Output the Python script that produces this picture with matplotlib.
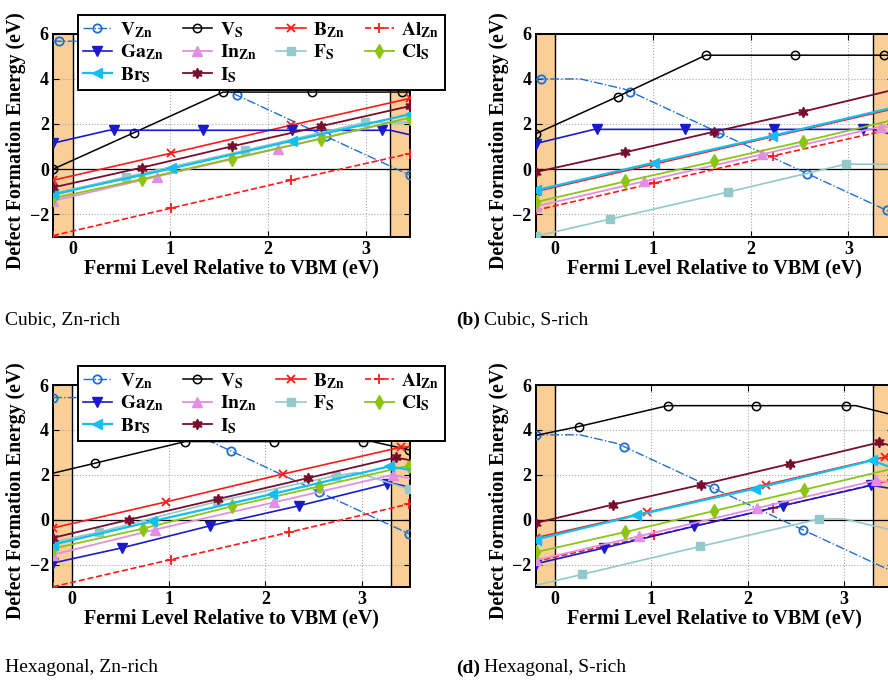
import matplotlib.pyplot as plt

plt.rcParams['font.family'] = 'Liberation Serif'
plt.rcParams['font.weight'] = 'bold'
plt.rcParams['axes.labelweight'] = 'bold'
plt.rcParams['mathtext.fontset'] = 'stix'

# band gaps (eV) and right x limit
gap_cubic = 3.25
gap_hex = 3.30
xmax_cubic = 3.45
xmax_hex = 3.50

# ---------------- (a) cubic, Zn-rich ----------------
a_vzn = [(-0.2, 5.66), (-0.14, 5.66), (0.26, 5.66), (0.71, 5.21), (0.77, 5.09), (1.68, 3.27), (2.59, 1.45), (3.45, -0.27)]
a_vzn_mk = [1, 4, 5, 6, 7]
a_vs = [(-0.2, 0.0), (0.63, 1.62), (1.54, 3.41), (2.45, 3.41), (3.37, 3.41), (3.45, 3.41)]
a_vs_mk = [0, 1, 2, 3, 4]
a_bzn = [(-0.2, -0.49), (1.01, 0.71), (2.23, 1.94), (3.45, 3.13)]
a_bzn_mk = [0, 1, 2, 3]
a_alzn = [(-0.2, -2.94), (1.01, -1.72), (2.23, -0.49), (3.45, 0.69)]
a_alzn_mk = [0, 1, 2, 3]
a_gazn = [(-0.2, 1.15), (0.37, 1.72), (0.42, 1.72), (1.33, 1.72), (2.24, 1.72), (3.16, 1.72), (3.25, 1.72), (3.45, 1.52)]
a_gazn_mk = [0, 2, 3, 4, 5]
a_inzn = [(-0.2, -1.40), (0.86, -0.33), (2.10, 0.91), (3.25, 2.06), (3.45, 2.06)]
a_inzn_mk = [0, 1, 2]
a_fs = [(-0.2, -1.08), (0.55, -0.34), (1.76, 0.83), (2.99, 2.07), (3.45, 2.07)]
a_fs_mk = [0, 1, 2, 3]
a_cls = [(-0.2, -1.29), (0.71, -0.44), (1.63, 0.47), (2.54, 1.35), (3.45, 2.28)]
a_cls_mk = [0, 1, 2, 3, 4]
a_brs = [(-0.2, -1.12), (1.01, 0.03), (2.24, 1.25), (3.45, 2.43)]
a_brs_mk = [0, 1, 2, 3]
a_is = [(-0.2, -0.81), (0.71, 0.07), (1.63, 1.01), (2.54, 1.90), (3.45, 2.79)]
a_is_mk = [0, 1, 2, 3, 4]

# ---------------- (b) cubic, S-rich ----------------
b_vzn = [(-0.2, 3.99), (-0.14, 3.99), (0.26, 3.99), (0.71, 3.54), (0.77, 3.43), (1.68, 1.60), (2.58, -0.20), (3.39, -1.82), (3.45, -1.94)]
b_vzn_mk = [1, 4, 5, 6, 7]
b_vs = [(-0.2, 1.56), (0.64, 3.21), (1.54, 5.04), (2.45, 5.04), (3.36, 5.04), (3.45, 5.04)]
b_vs_mk = [0, 1, 2, 3, 4]
b_bzn = [(-0.2, -0.99), (1.01, 0.22), (2.23, 1.44), (3.45, 2.66)]
b_bzn_mk = [0, 1, 2, 3]
b_alzn = [(-0.2, -1.82), (1.01, -0.62), (2.23, 0.59), (3.45, 1.78)]
b_alzn_mk = [0, 1, 2, 3]
b_gazn = [(-0.2, 1.13), (0.40, 1.76), (0.43, 1.76), (1.33, 1.76), (2.24, 1.76), (3.15, 1.76), (3.25, 1.76), (3.45, 1.53)]
b_gazn_mk = [0, 2, 3, 4, 5]
b_inzn = [(-0.2, -1.65), (0.91, -0.54), (2.12, 0.66), (3.33, 1.88), (3.45, 1.88)]
b_inzn_mk = [0, 1, 2, 3]
b_fs = [(-0.2, -2.97), (0.56, -2.21), (1.77, -1.01), (2.97, 0.22), (3.45, 0.22)]
b_fs_mk = [0, 1, 2, 3]
b_cls = [(-0.2, -1.46), (0.72, -0.54), (1.63, 0.34), (2.53, 1.22), (3.45, 2.17)]
b_cls_mk = [0, 1, 2, 3, 4]
b_brs = [(-0.2, -0.94), (1.01, 0.29), (2.22, 1.47), (3.45, 2.72)]
b_brs_mk = [0, 1, 2, 3]
b_is = [(-0.2, -0.13), (0.72, 0.75), (1.63, 1.66), (2.53, 2.54), (3.45, 3.50)]
b_is_mk = [0, 1, 2, 3, 4]

# ---------------- (c) hexagonal, Zn-rich ----------------
c_vzn = [(-0.2, 5.44), (0.26, 5.44), (0.65, 5.05), (0.72, 4.91), (1.64, 3.07), (2.56, 1.23), (3.49, -0.63)]
c_vzn_mk = [0, 3, 4, 5, 6]
c_vs = [(-0.2, 2.07), (0.24, 2.52), (1.17, 3.48), (2.09, 3.48), (3.01, 3.48), (3.11, 3.48), (3.49, 3.11)]
c_vs_mk = [1, 2, 3, 4, 6]
c_bzn = [(-0.2, -0.37), (0.97, 0.79), (2.18, 2.03), (3.41, 3.23), (3.50, 3.25)]
c_bzn_mk = [0, 1, 2, 3]
c_alzn = [(-0.2, -2.99), (1.02, -1.78), (2.25, -0.56), (3.49, 0.70)]
c_alzn_mk = [0, 1, 2, 3]
c_gazn = [(-0.2, -1.93), (0.51, -1.26), (1.43, -0.27), (2.35, 0.62), (3.26, 1.59), (3.30, 1.63), (3.50, 1.45)]
c_gazn_mk = [0, 1, 2, 3, 4]
c_inzn = [(-0.2, -1.56), (0.86, -0.44), (2.09, 0.77), (3.32, 2.00), (3.50, 1.83)]
c_inzn_mk = [0, 1, 2, 3]
c_fs = [(-0.2, -1.00), (0.28, -0.55), (1.50, 0.81), (2.73, 1.96), (2.95, 2.10), (3.49, 1.36)]
c_fs_mk = [1, 2, 3, 5]
c_cls = [(-0.2, -1.29), (0.73, -0.40), (1.65, 0.59), (2.56, 1.48), (3.49, 2.41)]
c_cls_mk = [0, 1, 2, 3, 4]
c_brs = [(-0.2, -1.11), (0.83, -0.07), (2.07, 1.14), (3.28, 2.37), (3.50, 2.22)]
c_brs_mk = [0, 1, 2, 3]
c_is = [(-0.2, -0.81), (0.59, 0.00), (1.51, 0.92), (2.44, 1.85), (3.35, 2.77), (3.50, 2.65)]
c_is_mk = [0, 1, 2, 3, 4]

# ---------------- (d) hexagonal, S-rich ----------------
d_vzn = [(-0.2, 3.78), (0.26, 3.78), (0.65, 3.39), (0.72, 3.25), (1.65, 1.39), (2.57, -0.45), (3.50, -2.31)]
d_vzn_mk = [0, 3, 4, 5]
d_vs = [(-0.2, 3.75), (0.25, 4.15), (1.17, 5.08), (2.09, 5.08), (3.02, 5.08), (3.12, 5.08), (3.50, 4.67)]
d_vs_mk = [1, 2, 3, 4, 6]
d_bzn = [(-0.2, -0.81), (0.96, 0.33), (2.19, 1.56), (3.42, 2.79), (3.50, 2.85)]
d_bzn_mk = [0, 1, 2, 3]
d_alzn = [(-0.2, -1.86), (1.03, -0.70), (2.26, 0.52), (3.49, 1.76)]
d_alzn_mk = [0, 1, 2, 3]
d_gazn = [(-0.2, -1.97), (0.51, -1.26), (1.44, -0.30), (2.36, 0.62), (3.28, 1.53), (3.50, 1.38)]
d_gazn_mk = [0, 1, 2, 3, 4]
d_inzn = [(-0.2, -1.81), (0.87, -0.74), (2.10, 0.52), (3.33, 1.75), (3.50, 1.63)]
d_inzn_mk = [0, 1, 2, 3]
d_fs = [(-0.2, -2.93), (0.28, -2.44), (1.51, -1.19), (2.74, 0.03), (3.00, 0.03), (3.50, -0.47)]
d_fs_mk = [1, 2, 3]
d_cls = [(-0.2, -1.45), (0.73, -0.55), (1.65, 0.39), (2.58, 1.33), (3.50, 2.27)]
d_cls_mk = [0, 1, 2, 3, 4]
d_brs = [(-0.2, -0.89), (0.84, 0.19), (2.07, 1.38), (3.29, 2.64), (3.50, 2.30)]
d_brs_mk = [0, 1, 2, 3]
d_is = [(-0.2, -0.15), (0.60, 0.67), (1.52, 1.56), (2.44, 2.49), (3.36, 3.44), (3.50, 3.28)]
d_is_mk = [0, 1, 2, 3, 4]

defects = ['vzn', 'vs', 'bzn', 'alzn', 'gazn', 'inzn', 'fs', 'cls', 'brs', 'is']
labels = {
    'vzn': r'$\mathbf{V_{Zn}}$', 'vs': r'$\mathbf{V_{S}}$', 'bzn': r'$\mathbf{B_{Zn}}$',
    'alzn': r'$\mathbf{Al_{Zn}}$', 'gazn': r'$\mathbf{Ga_{Zn}}$', 'inzn': r'$\mathbf{In_{Zn}}$',
    'fs': r'$\mathbf{F_{S}}$', 'cls': r'$\mathbf{Cl_{S}}$', 'brs': r'$\mathbf{Br_{S}}$',
    'is': r'$\mathbf{I_{S}}$',
}
styles = {
    'vzn': dict(color='#1f6fd0', ls='-.', lw=1.0, marker='o', ms=6, mfc='none', mew=1.3),
    'vs': dict(color='black', ls='-', lw=1.1, marker='o', ms=6, mfc='none', mew=1.1),
    'bzn': dict(color='#ff1a1a', ls='-', lw=1.2, marker='x', ms=6, mew=1.3),
    'alzn': dict(color='#ff1a1a', ls='--', lw=1.2, marker='+', ms=7, mew=1.3),
    'gazn': dict(color='#1a1acc', ls='-', lw=1.2, marker='v', ms=7),
    'inzn': dict(color='#e38ee3', ls='-', lw=1.3, marker='^', ms=7),
    'fs': dict(color='#93c9c9', ls='-', lw=1.2, marker='s', ms=5.5),
    'cls': dict(color='#8cc414', ls='-', lw=1.3, marker='d', ms=7.5),
    'brs': dict(color='#12bff0', ls='-', lw=1.6, marker='<', ms=7),
    'is': dict(color='#780d2d', ls='-', lw=1.3, marker=(6, 1, 0), ms=7.5),
}

panels = {
    'a': (dict(vzn=(a_vzn, a_vzn_mk), vs=(a_vs, a_vs_mk), bzn=(a_bzn, a_bzn_mk), alzn=(a_alzn, a_alzn_mk),
               gazn=(a_gazn, a_gazn_mk), inzn=(a_inzn, a_inzn_mk), fs=(a_fs, a_fs_mk), cls=(a_cls, a_cls_mk),
               brs=(a_brs, a_brs_mk), is_=(a_is, a_is_mk)), gap_cubic, xmax_cubic),
    'b': (dict(vzn=(b_vzn, b_vzn_mk), vs=(b_vs, b_vs_mk), bzn=(b_bzn, b_bzn_mk), alzn=(b_alzn, b_alzn_mk),
               gazn=(b_gazn, b_gazn_mk), inzn=(b_inzn, b_inzn_mk), fs=(b_fs, b_fs_mk), cls=(b_cls, b_cls_mk),
               brs=(b_brs, b_brs_mk), is_=(b_is, b_is_mk)), gap_cubic, xmax_cubic),
    'c': (dict(vzn=(c_vzn, c_vzn_mk), vs=(c_vs, c_vs_mk), bzn=(c_bzn, c_bzn_mk), alzn=(c_alzn, c_alzn_mk),
               gazn=(c_gazn, c_gazn_mk), inzn=(c_inzn, c_inzn_mk), fs=(c_fs, c_fs_mk), cls=(c_cls, c_cls_mk),
               brs=(c_brs, c_brs_mk), is_=(c_is, c_is_mk)), gap_hex, xmax_hex),
    'd': (dict(vzn=(d_vzn, d_vzn_mk), vs=(d_vs, d_vs_mk), bzn=(d_bzn, d_bzn_mk), alzn=(d_alzn, d_alzn_mk),
               gazn=(d_gazn, d_gazn_mk), inzn=(d_inzn, d_inzn_mk), fs=(d_fs, d_fs_mk), cls=(d_cls, d_cls_mk),
               brs=(d_brs, d_brs_mk), is_=(d_is, d_is_mk)), gap_hex, xmax_hex),
}

W, H = 888, 681
fig = plt.figure(figsize=(W / 100, H / 100), dpi=100)


def rect(left, top, w, h):
    return [left / W, 1 - (top + h) / H, w / W, h / H]


axes = {
    'a': fig.add_axes(rect(53, 33.5, 357, 203.5)),
    'b': fig.add_axes(rect(535.5, 33.5, 357, 203.5)),
    'c': fig.add_axes(rect(53, 385, 357, 202)),
    'd': fig.add_axes(rect(535.5, 385, 357, 202)),
}

orange = '#f9cf97'
for key, ax in axes.items():
    series, gap, xmax = panels[key]
    ax.axvspan(-0.2, 0, color=orange, lw=0, zorder=0)
    ax.axvspan(gap, xmax, color=orange, lw=0, zorder=0)
    ax.axvline(0, color='black', lw=1.0, zorder=1)
    ax.axvline(gap, color='black', lw=1.0, zorder=1)
    ax.axhline(0, color='black', lw=0.9, zorder=1)
    handles = {}
    for d in defects:
        pts, mk = series['is_' if d == 'is' else d]
        xs = [p[0] for p in pts]
        ys = [p[1] for p in pts]
        line, = ax.plot(xs, ys, markevery=mk, label=labels[d], zorder=3, **styles[d])
        handles[d] = line
    ax.set_xlim(-0.2, xmax)
    ax.set_ylim(-3, 6)
    ax.set_xticks([0, 1, 2, 3])
    ax.set_yticks([-2, 0, 2, 4, 6])
    ax.grid(True, ls=':', color='#aaaaaa', lw=0.8)
    ax.set_axisbelow(True)
    ax.tick_params(direction='in', length=4, width=0.8, labelsize=13, pad=3,
                   top=True, right=True)
    for s in ax.spines.values():
        s.set_linewidth(1.4)
    ax.set_xlabel('Fermi Level Relative to VBM (eV)', fontsize=14.5)
    ax.set_ylabel('Defect Formation Energy (eV)', fontsize=14.2)
    ax.xaxis.set_label_coords(0.5, -0.105)
    ax.yaxis.set_label_coords(-0.075, 0.475)

    if key in ('a', 'c'):
        order = ['vzn', 'gazn', 'brs', 'vs', 'inzn', 'is', 'bzn', 'fs', 'alzn', 'cls']
        top = 15 if key == 'a' else 366
        leg = ax.legend([handles[k] for k in order], [labels[k] for k in order],
                        ncol=4, loc='upper left', bbox_to_anchor=(78 / W, 1 - top / H),
                        bbox_transform=fig.transFigure, borderaxespad=0, fontsize=14,
                        handlelength=1.5, handletextpad=0.4, columnspacing=1.0,
                        labelspacing=0.15, borderpad=0.25, fancybox=False, framealpha=1,
                        edgecolor='black')
        leg.get_frame().set_linewidth(1.4)
        leg.set_zorder(10)

cap = dict(fontsize=14, fontweight='normal', va='center')
fig.text(5 / W, 1 - 320 / H, 'Cubic, Zn-rich', **cap)
fig.text(456 / W, 1 - 320 / H, '(b)', fontsize=14, fontweight='bold', va='center')
fig.text(484 / W, 1 - 320 / H, 'Cubic, S-rich', **cap)
fig.text(5 / W, 1 - 668 / H, 'Hexagonal, Zn-rich', **cap)
fig.text(456 / W, 1 - 668 / H, '(d)', fontsize=14, fontweight='bold', va='center')
fig.text(484 / W, 1 - 668 / H, 'Hexagonal, S-rich', **cap)

fig.savefig('out.png', dpi=100)
